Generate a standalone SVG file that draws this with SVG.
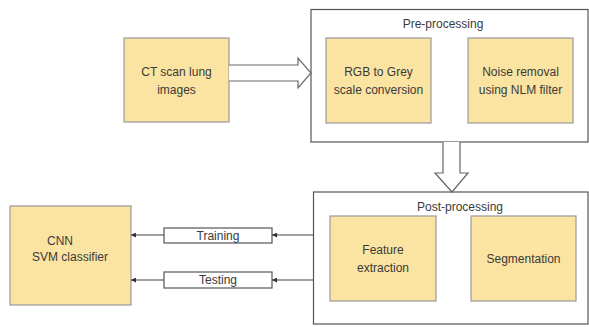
<svg xmlns="http://www.w3.org/2000/svg" width="589" height="327" viewBox="0 0 589 327">
<style>
.box{fill:#FBE3A1;stroke:#9a9a9a;stroke-width:1.2}
.grp{fill:#fff;stroke:#555;stroke-width:1.2}
.lbl{fill:#fff;stroke:#555;stroke-width:1.2}
.blk{fill:#fff;stroke:#666;stroke-width:1.2}
text{font-family:"Liberation Sans",Arial,sans-serif;font-size:12px;fill:#3a3a3a}
.c{text-anchor:middle}
.ln{stroke:#444;stroke-width:1.1;fill:none;marker-end:url(#ah)}
</style>
<defs>
<marker id="ah" viewBox="0 0 6 6" refX="6" refY="3" markerWidth="5" markerHeight="5" orient="auto" markerUnits="userSpaceOnUse">
<path d="M0,0 L6,3 L0,6 z" fill="#333"/>
</marker>
</defs>
<rect width="589" height="327" fill="#fff"/>
<g id="preprocessing">
<rect class="grp" x="311" y="9.5" width="277" height="132.5"/>
<text class="c" x="443" y="28">Pre-processing</text>
</g>
<g id="postprocessing">
<rect class="grp" x="313.5" y="192" width="274.5" height="132"/>
<text class="c" x="460" y="211">Post-processing</text>
</g>
<g id="ct">
<rect class="box" x="124" y="38" width="105" height="84"/>
<text class="c" x="176.5" y="76">CT scan lung</text>
<text class="c" x="176.5" y="94">images</text>
</g>
<g id="rgb">
<rect class="box" x="326" y="38" width="105" height="85"/>
<text class="c" x="378.5" y="76">RGB to Grey</text>
<text class="c" x="378.5" y="94">scale conversion</text>
</g>
<g id="noise">
<rect class="box" x="468" y="38" width="105" height="85"/>
<text class="c" x="520.5" y="76">Noise removal</text>
<text class="c" x="520.5" y="94">using NLM filter</text>
</g>
<g id="feature">
<rect class="box" x="330" y="216" width="106" height="85"/>
<text class="c" x="383" y="254">Feature</text>
<text class="c" x="383" y="272">extraction</text>
</g>
<g id="segmentation">
<rect class="box" x="471" y="216" width="105" height="85"/>
<text class="c" x="523.5" y="263">Segmentation</text>
</g>
<g id="classifier">
<rect class="box" x="10" y="206" width="121" height="99"/>
<text x="47" y="245">CNN</text>
<text x="32" y="261">SVM classifier</text>
</g>
<g id="training">
<rect class="lbl" x="164" y="228" width="108" height="15"/>
<text class="c" x="218" y="240">Training</text>
</g>
<g id="testing">
<rect class="lbl" x="164" y="272" width="108" height="16"/>
<text class="c" x="218" y="284">Testing</text>
</g>
<g id="connectors">
<path class="blk" d="M229,65 L298,65 L298,58 L311,73 L298,88 L298,81 L229,81"/>
<path class="blk" d="M443,142 L443,173 L435,173 L452,192 L468,173 L460,173 L460,142"/>
<path class="ln" d="M313.5,235 L272,235"/>
<path class="ln" d="M164,235 L131,235"/>
<path class="ln" d="M313.5,280 L272,280"/>
<path class="ln" d="M164,280 L131,280"/>
</g>
</svg>
